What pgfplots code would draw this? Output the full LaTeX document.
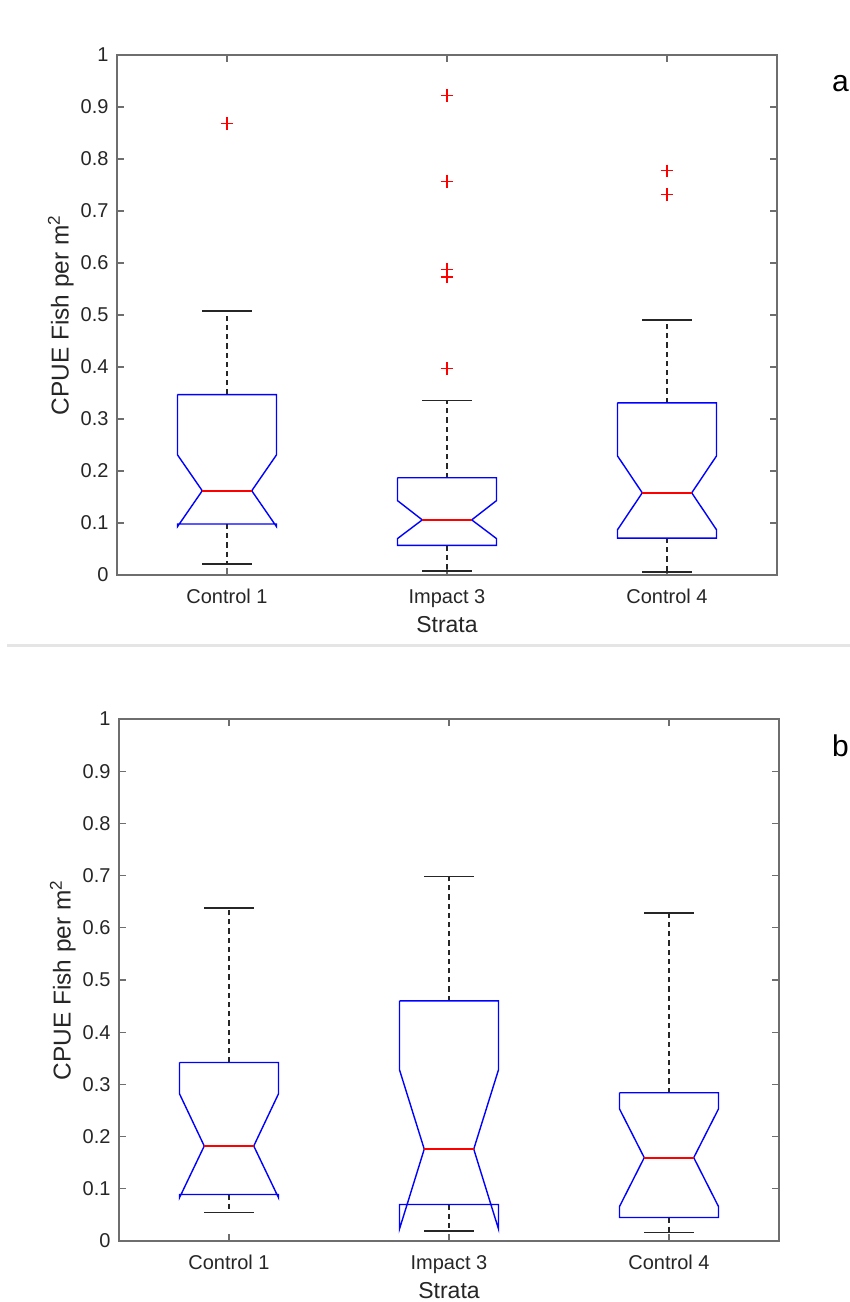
\documentclass[border=0pt]{standalone}
\usepackage{pgfplots}
\pgfplotsset{compat=1.18}
\usepackage{fontspec}
\setmainfont{Liberation Sans}

\definecolor{axisgray}{RGB}{110,110,110}
\definecolor{labelgray}{RGB}{38,38,38}
\definecolor{medred}{RGB}{255,0,0}

\pgfplotsset{
  strataaxis/.style={
    scale only axis,
    anchor=south west,
    width=330pt,
    xmin=0.5, xmax=3.5,
    ymin=0, ymax=1,
    xtick={1,2,3},
    xticklabels={Control 1, Impact 3, Control 4},
    ytick={0,0.1,...,1},
    yticklabels={0,0.1,0.2,0.3,0.4,0.5,0.6,0.7,0.8,0.9,1},
    tick align=inside,
    xtick pos=both, ytick pos=both,
    major tick length=3.5pt,
    axis line style={axisgray, line width=0.6pt},
    tick style={axisgray, line width=0.6pt},
    ticklabel style={font=\fontsize{10}{12}\selectfont, text=labelgray},
    xticklabel style={yshift=-3.5pt},
    yticklabel style={xshift=-0.7pt},
    label style={text=labelgray},
    xlabel={Strata},
    ylabel={CPUE Fish per m\textsuperscript{2}},
    xlabel style={font=\fontsize{11.5}{13}\selectfont, at={(axis description cs:0.5,0)}, anchor=north, yshift=-17pt},
    ylabel style={font=\fontsize{12.2}{14}\selectfont, at={(axis description cs:-0.085,0.5)}, anchor=center},
    /pgf/number format/assume math mode=true,
    clip=false,
  },
  boxline/.style={blue, line width=0.7pt, no marks},
  medline/.style={medred, line width=1pt, no marks},
  whisk/.style={black!85, line width=0.55pt, dash pattern=on 2.6pt off 2pt, no marks},
  capline/.style={black!85, line width=0.7pt, no marks},
  outl/.style={red, only marks, mark=+, mark size=3.2pt, mark options={line width=0.55pt}},
}

\begin{document}
\begin{tikzpicture}[x=1pt,y=1pt]
\useasboundingbox (0,0) rectangle (425,651);

% ---------- panel a ----------
\begin{axis}[strataaxis, at={(58.5pt,363.5pt)}, height=260pt]
% Control 1
\addplot[whisk] coordinates {(1,0.347) (1,0.508)};
\addplot[whisk] coordinates {(1,0.098) (1,0.021)};
\addplot[capline] coordinates {(0.8875,0.508) (1.1125,0.508)};
\addplot[capline] coordinates {(0.8875,0.021) (1.1125,0.021)};
\addplot[boxline] coordinates {(0.775,0.347) (1.225,0.347) (1.225,0.231) (1.1125,0.162) (1.225,0.093) (1.225,0.098) (0.775,0.098) (0.775,0.093) (0.8875,0.162) (0.775,0.231) (0.775,0.347)};
\addplot[medline] coordinates {(0.8875,0.162) (1.1125,0.162)};
\addplot[outl] coordinates {(1,0.868)};
% Impact 3
\addplot[whisk] coordinates {(2,0.187) (2,0.335)};
\addplot[whisk] coordinates {(2,0.057) (2,0.008)};
\addplot[capline] coordinates {(1.8875,0.335) (2.1125,0.335)};
\addplot[capline] coordinates {(1.8875,0.008) (2.1125,0.008)};
\addplot[boxline] coordinates {(1.775,0.187) (2.225,0.187) (2.225,0.143) (2.1125,0.106) (2.225,0.070) (2.225,0.057) (1.775,0.057) (1.775,0.070) (1.8875,0.106) (1.775,0.143) (1.775,0.187)};
\addplot[medline] coordinates {(1.8875,0.106) (2.1125,0.106)};
\addplot[outl] coordinates {(2,0.922) (2,0.757) (2,0.587) (2,0.573) (2,0.397)};
% Control 4
\addplot[whisk] coordinates {(3,0.331) (3,0.490)};
\addplot[whisk] coordinates {(3,0.071) (3,0.006)};
\addplot[capline] coordinates {(2.8875,0.490) (3.1125,0.490)};
\addplot[capline] coordinates {(2.8875,0.006) (3.1125,0.006)};
\addplot[boxline] coordinates {(2.775,0.331) (3.225,0.331) (3.225,0.229) (3.1125,0.158) (3.225,0.087) (3.225,0.071) (2.775,0.071) (2.775,0.087) (2.8875,0.158) (2.775,0.229) (2.775,0.331)};
\addplot[medline] coordinates {(2.8875,0.158) (3.1125,0.158)};
\addplot[outl] coordinates {(3,0.777) (3,0.732)};
\end{axis}

\node[anchor=base east, inner sep=0pt, font=\fontsize{15}{18}\selectfont] at (424.6,605.2) {a};

% divider between the panels
\draw[line width=1.5pt, black!10] (3.5,328) -- (425,328);

% ---------- panel b ----------
\begin{axis}[strataaxis, at={(59.5pt,30.5pt)}, height=261pt]
% Control 1
\addplot[whisk] coordinates {(1,0.342) (1,0.638)};
\addplot[whisk] coordinates {(1,0.089) (1,0.055)};
\addplot[capline] coordinates {(0.8875,0.638) (1.1125,0.638)};
\addplot[capline] coordinates {(0.8875,0.055) (1.1125,0.055)};
\addplot[boxline] coordinates {(0.775,0.342) (1.225,0.342) (1.225,0.282) (1.1125,0.182) (1.225,0.083) (1.225,0.089) (0.775,0.089) (0.775,0.083) (0.8875,0.182) (0.775,0.282) (0.775,0.342)};
\addplot[medline] coordinates {(0.8875,0.182) (1.1125,0.182)};
% Impact 3
\addplot[whisk] coordinates {(2,0.460) (2,0.698)};
\addplot[whisk] coordinates {(2,0.070) (2,0.019)};
\addplot[capline] coordinates {(1.8875,0.698) (2.1125,0.698)};
\addplot[capline] coordinates {(1.8875,0.019) (2.1125,0.019)};
\addplot[boxline] coordinates {(1.775,0.460) (2.225,0.460) (2.225,0.328) (2.1125,0.176) (2.225,0.023) (2.225,0.070) (1.775,0.070) (1.775,0.023) (1.8875,0.176) (1.775,0.328) (1.775,0.460)};
\addplot[medline] coordinates {(1.8875,0.176) (2.1125,0.176)};
% Control 4
\addplot[whisk] coordinates {(3,0.284) (3,0.628)};
\addplot[whisk] coordinates {(3,0.045) (3,0.016)};
\addplot[capline] coordinates {(2.8875,0.628) (3.1125,0.628)};
\addplot[capline] coordinates {(2.8875,0.016) (3.1125,0.016)};
\addplot[boxline] coordinates {(2.775,0.284) (3.225,0.284) (3.225,0.253) (3.1125,0.1597) (3.225,0.066) (3.225,0.045) (2.775,0.045) (2.775,0.066) (2.8875,0.1597) (2.775,0.253) (2.775,0.284)};
\addplot[medline] coordinates {(2.8875,0.1597) (3.1125,0.1597)};
\end{axis}

\node[anchor=base east, inner sep=0pt, font=\fontsize{15}{18}\selectfont] at (424.6,272.7) {b};
\end{tikzpicture}
\end{document}
